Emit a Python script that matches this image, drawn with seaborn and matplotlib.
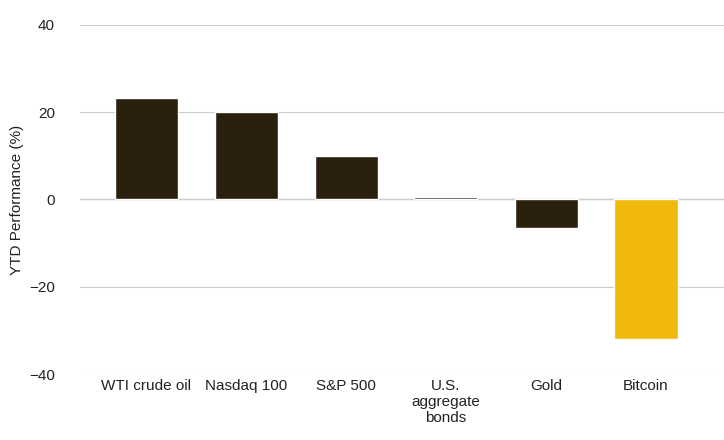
import matplotlib
matplotlib.use("Agg")
import matplotlib.pyplot as plt
import seaborn as sns
import pandas as pd

categories = ["WTI crude oil", "Nasdaq 100", "S&P 500", "U.S.\naggregate\nbonds", "Gold", "Bitcoin"]
values = [23.2, 20.0, 10.0, 0.6, -6.6, -32.0]
colors = ["#2b1f0e"] * 5 + ["#f0b90b"]

sns.set_style("white")
plt.rcParams['font.family'] = ['Liberation Sans', 'DejaVu Sans']

df = pd.DataFrame({"cat": categories, "val": values})
fig = plt.figure(figsize=(7.24, 4.4), dpi=100)
ax = fig.add_axes([80/724, 1-374/440, 1-80/724, 349/440])
sns.barplot(data=df, x="cat", y="val", hue="cat", palette=colors, legend=False,
            width=0.63, ax=ax, saturation=1)
ax.set_ylim(-40, 40)
ax.set_yticks([-40, -20, 0, 20, 40])
ax.set_xlim(-0.66, 5.78)
ax.yaxis.grid(True, color="#cccccc", linewidth=0.8)
ax.set_axisbelow(True)
ax.axhline(0, color="#333333", linewidth=0.8, zorder=0.5)
for s in ax.spines.values():
    s.set_visible(False)
ax.set_xlabel("")
ax.set_ylabel("YTD Performance (%)", fontsize=11, color="#222222")
ax.tick_params(axis="both", length=0, labelsize=11, colors="#222222")
ax.tick_params(axis="y", pad=18)
fig.savefig("out.png", dpi=100)
